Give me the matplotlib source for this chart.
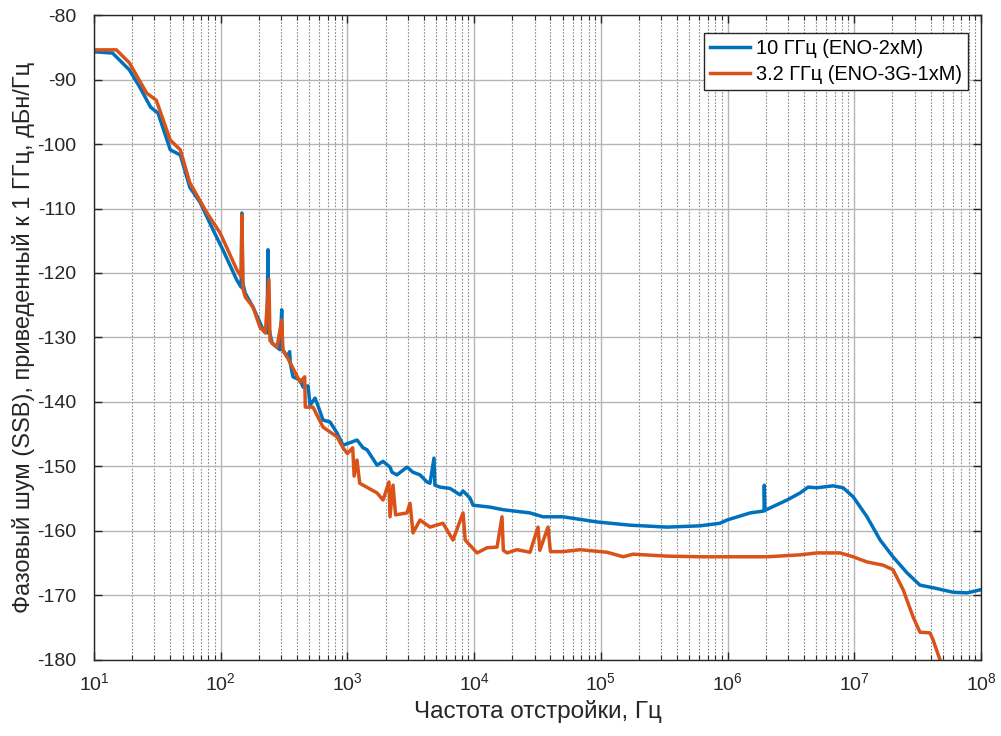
import matplotlib
matplotlib.use('Agg')
import matplotlib.pyplot as plt
from matplotlib.ticker import LogLocator, NullFormatter, MultipleLocator

plt.rcParams['font.family'] = ['Liberation Sans', 'DejaVu Sans']
plt.rcParams['axes.unicode_minus'] = False
plt.rcParams['mathtext.default'] = 'regular'

# 10 GHz (ENO-2xM)
f_blue = [10, 14, 19, 23, 28, 32, 40, 48, 57, 69, 87, 104, 134, 145, 147, 149,
          156, 180, 216, 232, 236, 240, 254, 294, 303, 307, 334, 350, 354, 372,
          423, 447, 489, 507, 555, 576, 642, 729, 828, 923, 1050, 1191, 1328,
          1428, 1713, 1910, 2168, 2249, 2462, 2951, 3294, 3740, 4246, 4485,
          4822, 4900, 5383, 6453, 7745, 8174, 9287, 9800, 13340, 16900, 27620,
          34990, 50310, 93300, 170000, 333000, 607000, 873000, 991000, 1.51e6,
          1.94e6, 1.95e6, 1.97e6, 2.95e6, 3.74e6, 4.32e6, 5.08e6, 6.8e6, 8.16e6,
          9.8e6, 1.26e7, 1.6e7, 2.02e7, 2.61e7, 3.3e7, 4.19e7, 6.03e7, 7.77e7, 1e8]
L_blue = [-85.7, -85.9, -88.5, -91.2, -94.3, -95.2, -100.9, -101.7, -106.7, -109.1,
          -113.3, -116.4, -121.1, -122.2, -110.7, -121.5, -123.1, -125.3, -128.8,
          -129.3, -116.4, -128.5, -130.9, -131.9, -125.7, -131.8, -133.0, -132.2,
          -134.0, -136.1, -136.6, -137.7, -137.5, -140.5, -139.4, -140.2, -142.8,
          -143.1, -144.8, -146.7, -146.3, -145.9, -147.1, -147.4, -149.8, -149.2,
          -150.1, -150.9, -151.3, -150.1, -150.9, -151.3, -152.4, -152.6, -148.7,
          -152.9, -153.2, -153.4, -154.4, -153.8, -154.9, -156.0, -156.3, -156.7,
          -157.2, -157.8, -157.8, -158.6, -159.1, -159.4, -159.2, -158.8, -158.3,
          -157.2, -156.9, -152.9, -156.8, -155.2, -154.1, -153.2, -153.3, -153.0,
          -153.3, -154.7, -157.8, -161.4, -164.0, -166.5, -168.4, -168.8, -169.5,
          -169.6, -169.1]

# 3.2 GHz (ENO-3G-1xM)
f_orange = [10, 15, 19, 26, 31, 40, 48, 57, 78, 99, 134, 145, 147, 150, 156, 180,
            204, 225, 240, 245, 278, 303, 310, 334, 423, 460, 465, 535, 642, 828,
            923, 1000, 1100, 1130, 1190, 1250, 1713, 1910, 2128, 2168, 2291, 2400,
            2951, 3119, 3294, 3740, 4485, 5675, 6809, 8174, 8500, 10540, 12650,
            15170, 16600, 17000, 18190, 21820, 27620, 31920, 33000, 38290, 40000,
            50310, 68550, 112000, 150000, 179000, 333000, 607000, 1.1e6, 2.05e6,
            3.74e6, 5.08e6, 7.73e6, 9.8e6, 1.26e7, 1.69e7, 2.02e7, 2.43e7, 2.91e7,
            3.3e7, 3.96e7, 4.19e7, 4.75e7, 5.2e7]
L_orange = [-85.4, -85.4, -87.4, -92.1, -93.2, -99.4, -100.9, -106.0, -110.7, -113.8,
            -119.5, -120.6, -111.0, -122.5, -123.7, -125.3, -128.4, -129.3, -121.0,
            -130.5, -131.5, -127.3, -132.0, -133.0, -136.9, -136.1, -140.8, -140.8,
            -143.9, -145.4, -147.1, -148.0, -147.1, -151.5, -149.0, -152.6, -154.1,
            -155.2, -152.4, -157.8, -152.9, -157.5, -157.2, -155.7, -160.3, -158.3,
            -159.4, -158.8, -161.4, -157.2, -161.4, -163.4, -162.6, -162.5, -157.8,
            -163.0, -163.4, -162.9, -163.3, -159.4, -163.0, -159.4, -163.2, -163.2,
            -162.9, -163.3, -164.0, -163.6, -163.9, -164.0, -164.0, -164.0, -163.7,
            -163.4, -163.4, -164.0, -164.8, -165.3, -166.0, -169.1, -173.3, -175.7,
            -175.8, -176.9, -180.0, -183.0]

labels = ['10 ГГц (ENO-2xM)', '3.2 ГГц (ENO-3G-1xM)']
xticks = [1e1, 1e2, 1e3, 1e4, 1e5, 1e6, 1e7, 1e8]
xticklabels = ['$10^{%d}$' % k for k in range(1, 9)]

fig = plt.figure(figsize=(10.01, 7.36), dpi=100)
ax = fig.add_axes([0.0939, 0.1033, 0.8861, 0.8763])

ax.semilogx(f_blue, L_blue, color='#0072BD', lw=2.5, label=labels[0])
ax.semilogx(f_orange, L_orange, color='#D95319', lw=2.5, label=labels[1])

ax.set_xlim(10, 1e8)
ax.set_ylim(-180, -80)
ax.yaxis.set_major_locator(MultipleLocator(10))
ax.set_xticks(xticks)
ax.set_xticklabels(xticklabels)
ax.xaxis.set_minor_locator(LogLocator(base=10, subs=range(2, 10), numticks=100))
ax.xaxis.set_minor_formatter(NullFormatter())

ax.grid(True, which='major', color='#b5b5b5', lw=1.0, ls='-')
ax.grid(True, which='minor', axis='x', color='#8a8a8a', lw=0.8, ls=(0, (1.5, 1.5)))
ax.set_axisbelow(True)

ax.tick_params(which='both', direction='in', top=True, right=True, colors='#262626')
ax.tick_params(which='major', length=6, labelsize=14, width=1)
ax.tick_params(which='minor', length=3.5, width=0.8)
ax.tick_params(axis='x', pad=9)
ax.tick_params(axis='y', pad=13)
for s in ax.spines.values():
    s.set_color('#262626')
    s.set_linewidth(1)

ax.set_xlabel('Частота отстройки, Гц', fontsize=17.5, color='#262626')
ax.set_ylabel('Фазовый шум (SSB), приведенный к 1 ГГц, дБн/Гц', fontsize=17, color='#262626')
ax.xaxis.set_label_coords(0.5, -0.062)
ax.yaxis.set_label_coords(-0.067, 0.5)

leg = ax.legend(loc='upper right', bbox_to_anchor=(0.9853, 0.972), borderaxespad=0,
                fontsize=14.4, fancybox=False, framealpha=1, edgecolor='#262626',
                handlelength=2.0, borderpad=0.3, labelspacing=0.35, handletextpad=0.3)
leg.get_frame().set_linewidth(1)

fig.savefig('out.png', dpi=100)
